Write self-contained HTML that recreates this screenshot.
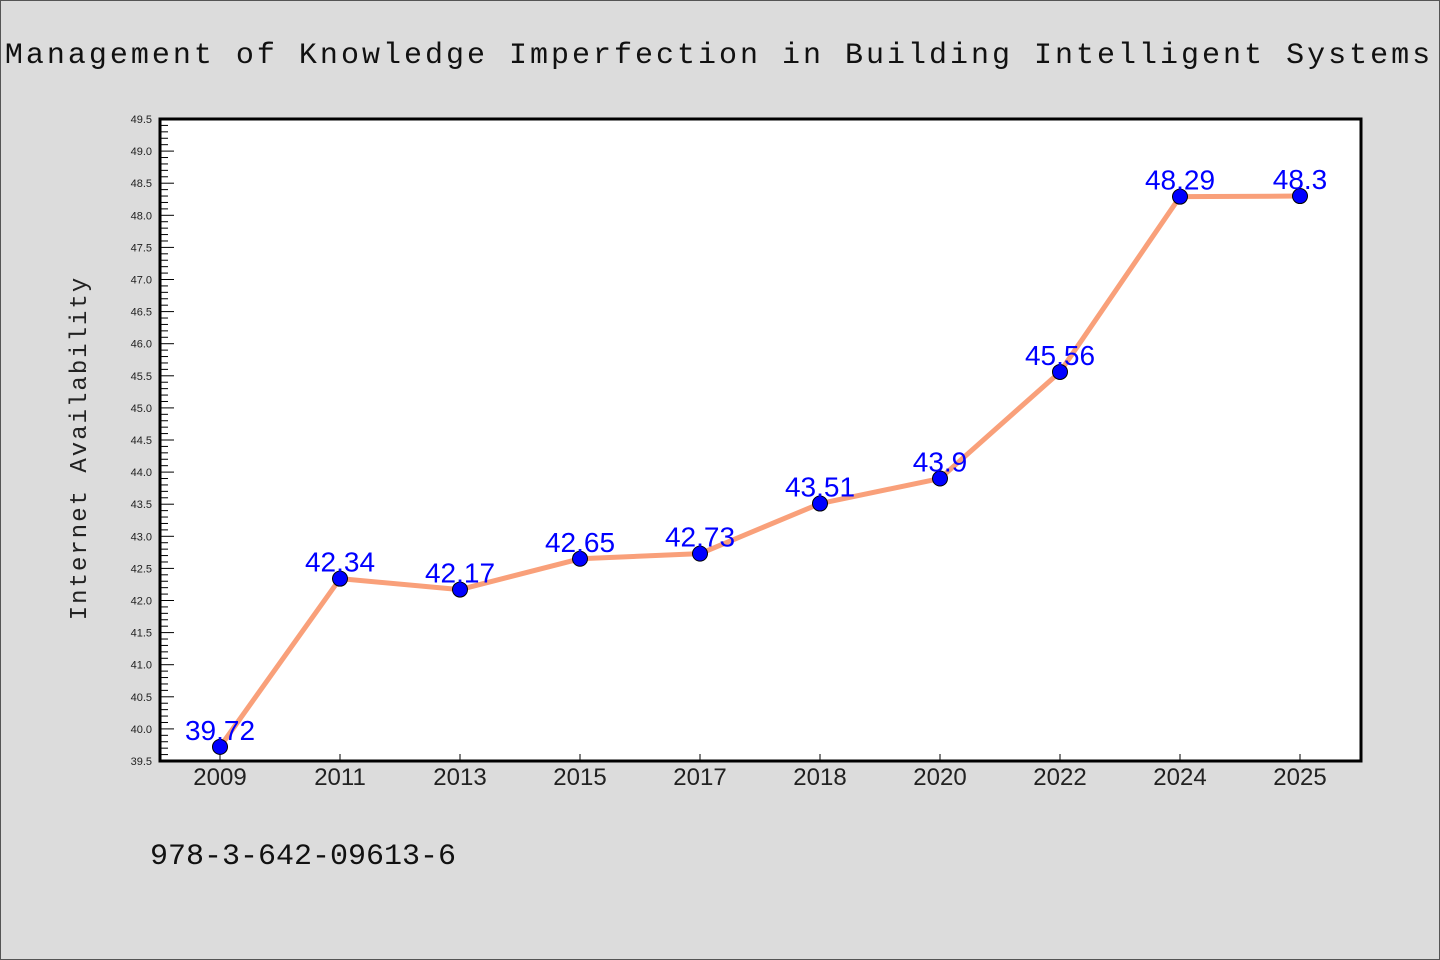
<!DOCTYPE html>
<html><head><meta charset="utf-8"><style>
html,body{margin:0;padding:0;background:#dcdcdc;}
svg{display:block;}
</style></head><body>
<svg id="chart" width="1440" height="960" xmlns="http://www.w3.org/2000/svg">
<rect x="0.5" y="0.5" width="1439" height="959" fill="#dcdcdc" stroke="#555"/>
<text x="719" y="63" text-anchor="middle" font-family="Liberation Mono, monospace" font-size="30" letter-spacing="3" fill="#111">Management of Knowledge Imperfection in Building Intelligent Systems</text>
<rect x="160" y="119" width="1201" height="642" fill="#fff"/>
<g id="ticks"></g>
<g id="series"></g>
<rect x="160" y="119" width="1201" height="642" fill="none" stroke="#000" stroke-width="3"/>
<text transform="translate(86,448) rotate(-90)" text-anchor="middle" font-family="Liberation Mono, monospace" font-size="24" letter-spacing="2" fill="#222">Internet Availability</text>
<text x="150" y="864" font-family="Liberation Mono, monospace" font-size="30" fill="#111">978-3-642-09613-6</text>
</svg>
<script>
const categories = ["2009","2011","2013","2015","2017","2018","2020","2022","2024","2025"];
const values = [39.72,42.34,42.17,42.65,42.73,43.51,43.9,45.56,48.29,48.3];
const valueLabels = ["39.72","42.34","42.17","42.65","42.73","43.51","43.9","45.56","48.29","48.3"];
const yTickLabels = ["39.5","40.0","40.5","41.0","41.5","42.0","42.5","43.0","43.5","44.0","44.5","45.0","45.5","46.0","46.5","47.0","47.5","48.0","48.5","49.0","49.5"];
const yMin = 39.5, yMax = 49.5;
const L=160,R=1361,T=119,B=761;
const NS="http://www.w3.org/2000/svg";
function y(v){return B-(v-yMin)/(yMax-yMin)*(B-T);}
function x(i){return 220+i*((1300-220)/(categories.length-1));}
function mk(tag,attrs,parent){const e=document.createElementNS(NS,tag);for(const k in attrs)e.setAttribute(k,attrs[k]);parent.appendChild(e);return e;}
const tg=document.getElementById('ticks'), sg=document.getElementById('series');
// minor ticks
for(let k=0;k<=Math.round((yMax-yMin)*10);k++){
  const v=yMin+k*0.1, yy=y(v), major=(k%5===0);
  const t=mk('line',{x1:L,x2:L+(major?14:8),y1:yy,y2:yy,stroke:'#000','stroke-width':1},tg);
  
  
}
yTickLabels.forEach(s=>{
  const t=mk('text',{x:152,y:y(parseFloat(s))+4,'text-anchor':'end','font-family':'Liberation Sans, sans-serif','font-size':11,fill:'#222'},tg);
  t.textContent=s;
  
  
});
categories.forEach((c,i)=>{
  const t=mk('line',{x1:x(i),x2:x(i),y1:B,y2:B-7,stroke:'#000','stroke-width':1},tg);
  
  
  const l=mk('text',{x:x(i),y:785,'text-anchor':'middle','font-family':'Liberation Sans, sans-serif','font-size':24,fill:'#222'},tg);
  l.textContent=c;
  
  
});
const pts=values.map((v,i)=>x(i)+','+y(v)).join(' ');
const line=mk('polyline',{points:pts,fill:'none',stroke:'#f9a07a','stroke-width':5,'stroke-linejoin':'round'},sg);


values.forEach((v,i)=>{
  const c=mk('circle',{cx:x(i),cy:y(v),r:7.5,fill:'#0000ff',stroke:'#000','stroke-width':1},sg);
  
  
  const t=mk('text',{x:x(i),y:y(v)-7,'text-anchor':'middle','font-family':'Liberation Sans, sans-serif','font-size':28,fill:'#0000ff'},sg);
  t.textContent=valueLabels[i];
  
  
});
</script>
</body></html>
